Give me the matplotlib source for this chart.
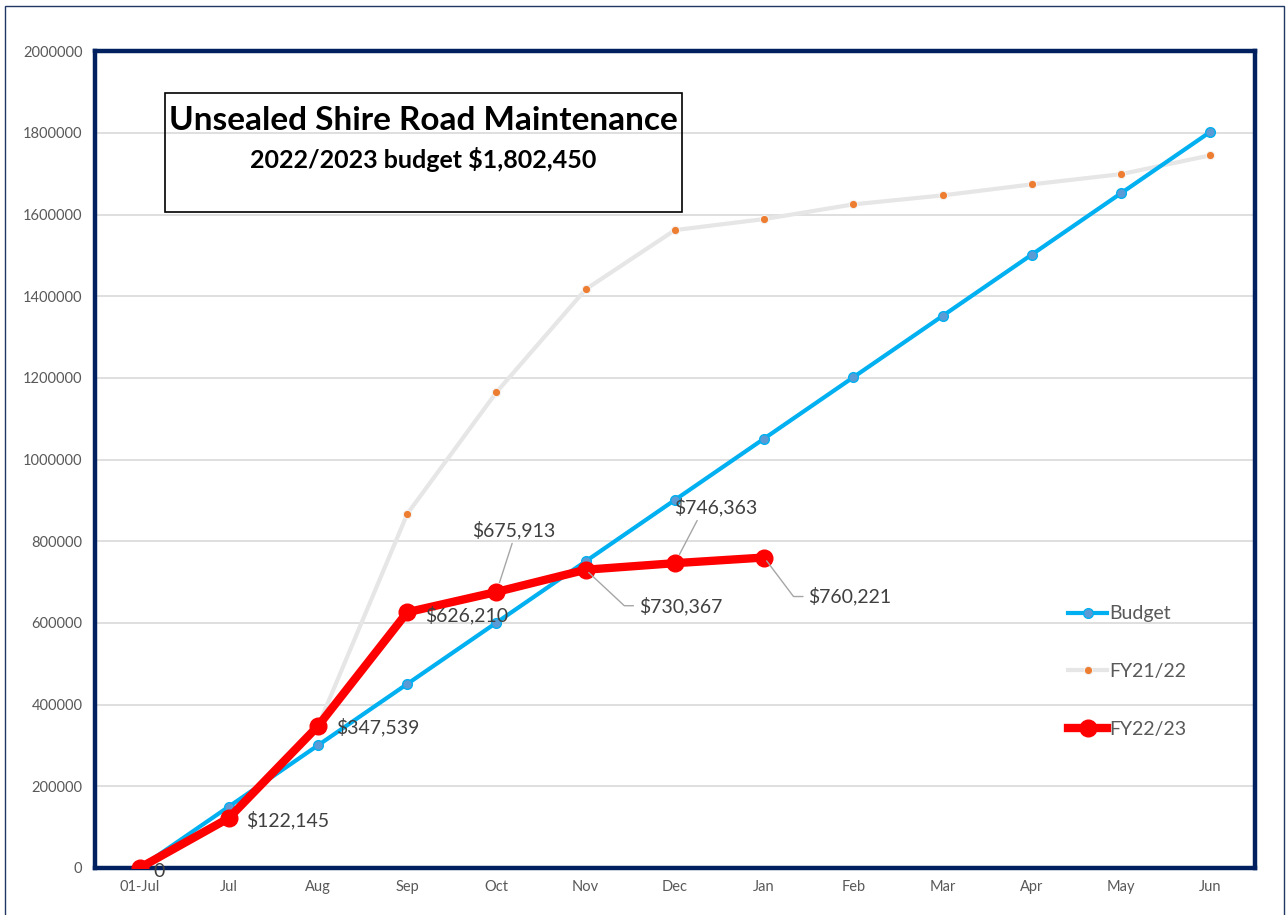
import matplotlib
matplotlib.use("Agg")
from matplotlib import pyplot as plt
from matplotlib.patches import Rectangle

plt.rcParams['font.family'] = ['Lato', 'DejaVu Sans']

months = ["01-Jul", "Jul", "Aug", "Sep", "Oct", "Nov", "Dec", "Jan", "Feb", "Mar", "Apr", "May", "Jun"]
budget = [0, 150204, 300408, 450612, 600817, 751021, 901225, 1051429, 1201633, 1351837, 1502042, 1652246, 1802450]
fy2122 = [0, 122000, 347000, 867000, 1165000, 1417000, 1562000, 1589000, 1625000, 1647000, 1674000, 1699000, 1745000]
fy2223 = [0, 122145, 347539, 626210, 675913, 730367, 746363, 760221]
fy2223_labels = ["0", "$122,145", "$347,539", "$626,210", "$675,913", "$730,367", "$746,363", "$760,221"]
yticks = [0, 200000, 400000, 600000, 800000, 1000000, 1200000, 1400000, 1600000, 1800000, 2000000]

NAVY = "#002060"
GRID = "#D9D9D9"
TXT = "#595959"
LBL = "#404040"

fig = plt.figure(figsize=(12.87, 9.15), dpi=100)
ax = fig.add_axes([0.0738, 0.0514, 0.9012, 0.8926])

x = list(range(len(months)))
ax.plot(x, budget, color="#00B0F0", lw=3, marker="o", ms=7,
        mfc="#5B9BD5", mec="#00B0F0", mew=1, label="Budget", zorder=3)
ax.plot(x, fy2122, color="#E7E6E6", lw=3, marker="o", ms=6,
        mfc="#ED7D31", mec="#F4F4F4", mew=0.8, label="FY21/22", zorder=2)
ax.plot(x[:len(fy2223)], fy2223, color="#FF0000", lw=6, marker="o", ms=12,
        mfc="#FF0000", mec="#FF0000", label="FY22/23", zorder=4)

# data labels, offsets in pixels from the point
offsets = [(19, -4), (59, -2), (60, -1), (59, -3), (17, 62), (95, -36), (41, 56), (86, -39)]
for i, (v, t) in enumerate(zip(fy2223, fy2223_labels)):
    dx, dy = offsets[i]
    kw = {}
    if i == 4:
        kw = dict(arrowprops=dict(arrowstyle="-", color="#A6A6A6", lw=1,
                                  shrinkA=1, shrinkB=7, relpos=(0.5, 0)))
    elif i == 6:
        kw = dict(arrowprops=dict(arrowstyle="-", color="#A6A6A6", lw=1,
                                  shrinkA=1, shrinkB=7, relpos=(0.3, 0)))
    elif i == 5:
        kw = dict(arrowprops=dict(arrowstyle="-", color="#A6A6A6", lw=1,
                                  shrinkA=2, shrinkB=3, relpos=(0, 0.5),
                                  connectionstyle="angle,angleA=0,angleB=-43,rad=0"))
    elif i == 7:
        kw = dict(arrowprops=dict(arrowstyle="-", color="#A6A6A6", lw=1,
                                  shrinkA=2, shrinkB=3, relpos=(0, 0.5),
                                  connectionstyle="angle,angleA=0,angleB=-53,rad=0"))
    ax.annotate(t, (i, v), xytext=(dx, dy), textcoords="offset pixels",
                ha="center", va="center", fontsize=14, color=LBL, zorder=5, **kw)

ax.set_xlim(-0.5, 12.5)
ax.set_ylim(0, 2000000)
ax.set_xticks(x)
ax.set_xticklabels(months)
ax.set_yticks(yticks)
ax.set_yticklabels([str(t) for t in yticks])
ax.tick_params(length=0, labelsize=10.5, colors=TXT, pad=9)
ax.grid(axis="y", color=GRID, lw=1.2)
ax.set_axisbelow(True)
for s in ax.spines.values():
    s.set_color(NAVY)
    s.set_linewidth(3.2)

leg = ax.legend(loc="upper left", bbox_to_anchor=(0.824, 0.343), frameon=False,
                fontsize=14, labelspacing=2.1, handlelength=2.0, handletextpad=0.1,
                labelcolor=TXT)

# title box
fig.patches.append(Rectangle((0.128, 0.7687), 0.402, 0.130, transform=fig.transFigure,
                             fill=False, ec="black", lw=1.2, zorder=6))
fig.text(0.329, 0.868, "Unsealed Shire Road Maintenance", ha="center", va="center",
         fontsize=24, fontweight="bold", color="black")
fig.text(0.329, 0.826, "2022/2023 budget $1,802,450", ha="center", va="center",
         fontsize=18, fontweight="bold", color="black")

# outer frame
fig.patches.append(Rectangle((0.004, -0.01), 0.994, 1.003, transform=fig.transFigure,
                             fill=False, ec="#1F3864", lw=1))

fig.savefig("out.png", dpi=100)
